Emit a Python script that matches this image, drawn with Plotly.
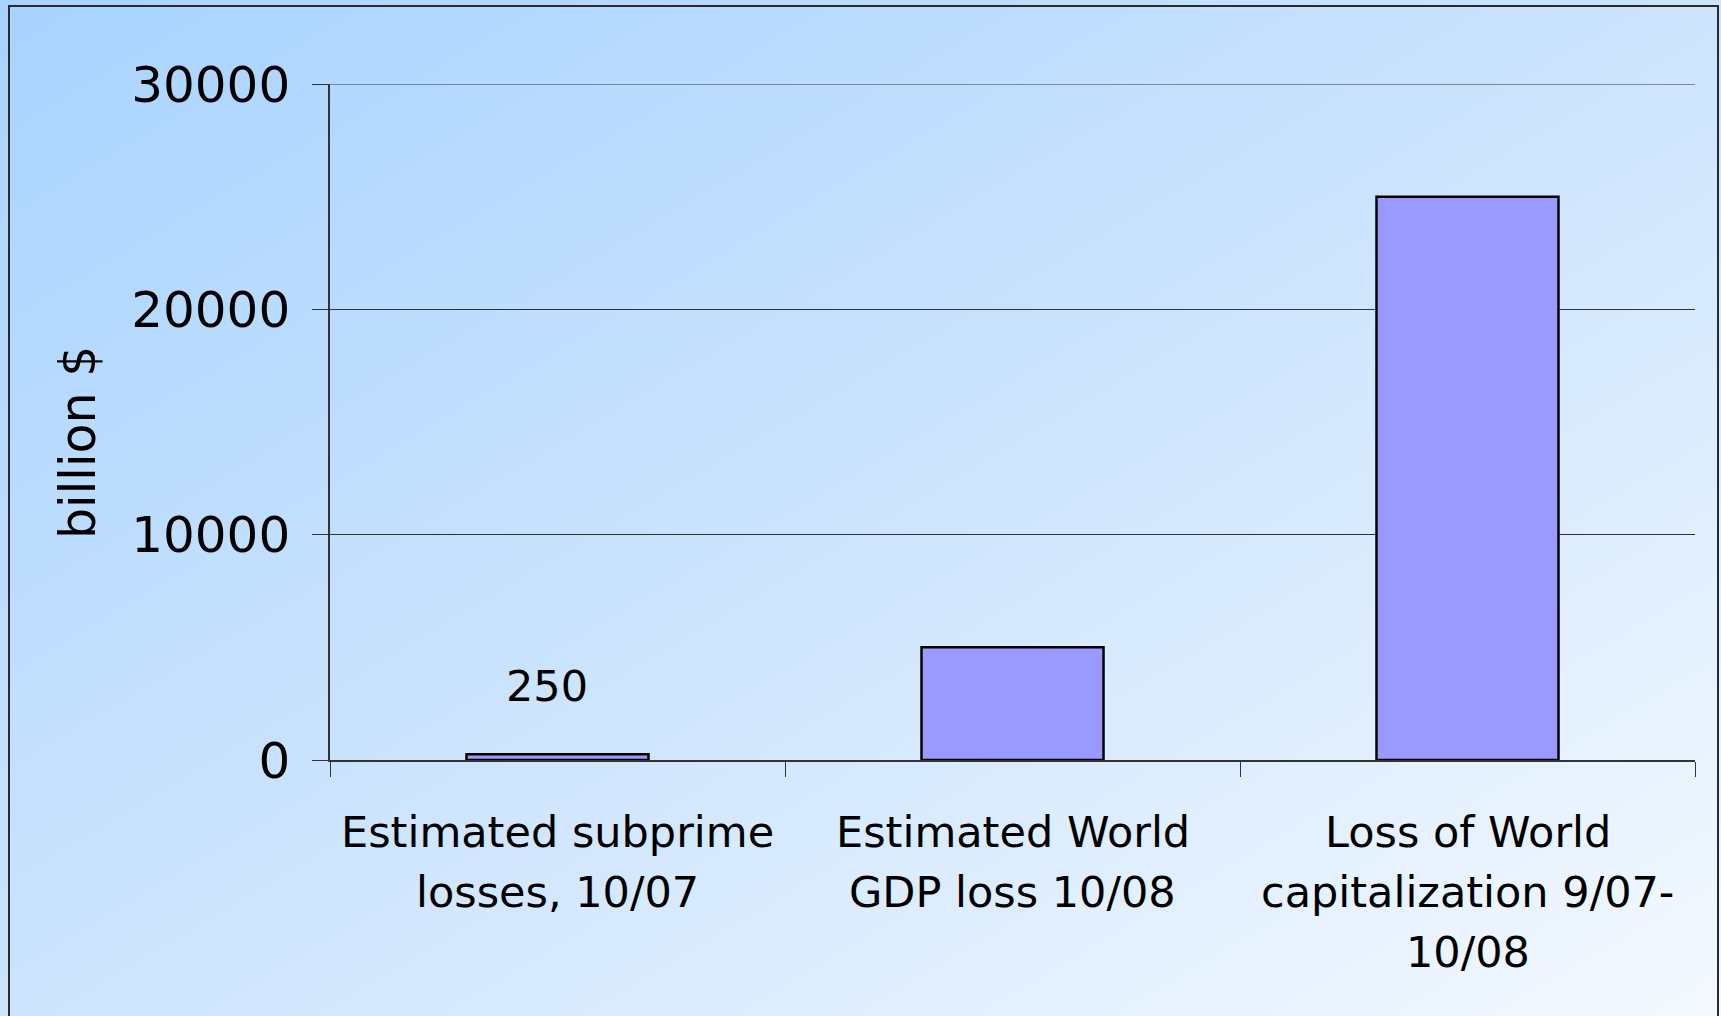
import base64
import plotly.graph_objects as go

# Loss estimates, billion $
categories = [
    "Estimated subprime losses, 10/07",
    "Estimated World GDP loss 10/08",
    "Loss of World capitalization 9/07-10/08",
]
category_lines = [
    ["Estimated subprime", "losses, 10/07"],
    ["Estimated World", "GDP loss 10/08"],
    ["Loss of World", "capitalization 9/07-", "10/08"],
]
values = [250, 5000, 25000]
y_ticks = [0, 10000, 20000, 30000]
y_title = "billion $"

W, H = 1721, 1016
L, R, T, B = 330, 26, 84, 256
pw, ph = W - L - R, H - T - B

FONT = "DejaVu Sans, Verdana, sans-serif"

# Diagonal light-blue background gradient as an inline SVG
svg = (
    '<svg xmlns="http://www.w3.org/2000/svg" width="1721" height="1016" '
    'preserveAspectRatio="none" viewBox="0 0 1721 1016">'
    '<defs><linearGradient id="g" x1="0" y1="0" x2="1" y2="1">'
    '<stop offset="0" stop-color="#a8d3ff"/>'
    '<stop offset="0.5" stop-color="#cce4fd"/>'
    '<stop offset="1" stop-color="#f4f9ff"/>'
    '</linearGradient></defs>'
    '<rect width="1721" height="1016" fill="url(#g)"/></svg>'
)
bg_src = "data:image/svg+xml;base64," + base64.b64encode(svg.encode()).decode()


def px_x(x):
    return (x - L) / pw


def px_y(y):
    return (H - B - y) / ph


fig = go.Figure(
    go.Bar(
        x=categories,
        y=values,
        width=0.4,
        marker=dict(color="#9999ff", line=dict(color="#000000", width=2.5)),
        hoverinfo="x+y",
    )
)

# value label above the small first bar
fig.add_annotation(
    x=categories[0], y=values[0], text=str(values[0]),
    showarrow=False, yshift=68, xshift=-11,
    font=dict(family=FONT, size=43, color="#000"),
)

# category labels, one annotation per line for wider line spacing
line_step = 60
for cat, lines in zip(categories, category_lines):
    for i, line in enumerate(lines):
        fig.add_annotation(
            x=cat, xref="x", yref="paper", y=px_y(832 + i * line_step),
            text=line, showarrow=False, xanchor="center", yanchor="middle",
            font=dict(family=FONT, size=43, color="#000"),
        )

# rotated y-axis title
fig.add_annotation(
    xref="paper", yref="paper", x=px_x(79), y=px_y(442), text=y_title,
    textangle=-90, showarrow=False, xanchor="center", yanchor="middle",
    font=dict(family=FONT, size=49, color="#000"),
)

# top gridline at 30000
fig.add_shape(
    type="line", xref="paper", yref="y", x0=0, x1=1, y0=y_ticks[-1], y1=y_ticks[-1],
    line=dict(color="#333333", width=1), layer="below",
)

# outer frame
fig.add_shape(
    type="rect", xref="paper", yref="paper",
    x0=px_x(9), x1=px_x(1718), y0=px_y(1030), y1=px_y(6),
    line=dict(color="#2b2b2b", width=2), fillcolor="rgba(0,0,0,0)", layer="above",
)

fig.add_layout_image(
    source=bg_src, xref="paper", yref="paper",
    x=px_x(0), y=px_y(0), sizex=W / pw, sizey=H / ph,
    xanchor="left", yanchor="top", sizing="stretch", layer="below",
)

fig.update_layout(
    width=W, height=H,
    margin=dict(l=L, r=R, t=T, b=B, autoexpand=False),
    paper_bgcolor="#cce4fd",
    plot_bgcolor="rgba(0,0,0,0)",
    showlegend=False,
    font=dict(family=FONT, color="#000"),
    bargap=0.6,
)

fig.update_xaxes(
    type="category",
    showline=True, linecolor="#333333", linewidth=1.5,
    ticks="outside", tickson="boundaries", ticklen=15, tickcolor="#333333", tickwidth=1,
    showgrid=False,
    showticklabels=False,
)

fig.update_yaxes(
    range=[0, 30000], tickvals=y_ticks,
    ticktext=[str(v) for v in y_ticks],
    showline=True, linecolor="#333333", linewidth=1.5,
    ticks="outside", ticklen=16, tickcolor="#333333", tickwidth=1,
    showgrid=True, gridcolor="#333333", gridwidth=1,
    zeroline=False,
    tickfont=dict(family=FONT, size=50, color="#000"),
    ticklabelstandoff=12,
)

fig.write_html("out.html")
